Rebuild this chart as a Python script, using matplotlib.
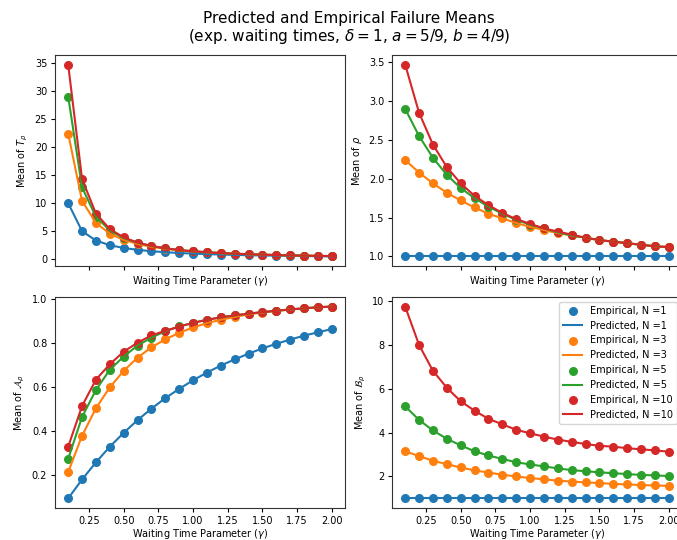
import matplotlib
matplotlib.use("Agg")
import matplotlib.pyplot as plt

gamma = [0.1, 0.2, 0.3, 0.4, 0.5, 0.6, 0.7, 0.8, 0.9, 1.0,
         1.1, 1.2, 1.3, 1.4, 1.5, 1.6, 1.7, 1.8, 1.9, 2.0]
N_values = [1, 3, 5, 10]
colors = ["#1f77b4", "#ff7f0e", "#2ca02c", "#d62728"]

T_mean = {
    1: [10.0, 5.0, 3.33, 2.5, 2.0, 1.67, 1.43, 1.25, 1.11, 1.0,
        0.91, 0.83, 0.77, 0.71, 0.67, 0.63, 0.59, 0.56, 0.53, 0.5],
    3: [22.4, 10.4, 6.47, 4.55, 3.44, 2.72, 2.21, 1.86, 1.59, 1.38,
        1.22, 1.08, 0.98, 0.89, 0.81, 0.74, 0.69, 0.64, 0.59, 0.56],
    5: [29.0, 12.8, 7.57, 5.13, 3.76, 2.92, 2.34, 1.94, 1.63, 1.41,
        1.24, 1.09, 0.98, 0.89, 0.81, 0.74, 0.69, 0.64, 0.59, 0.56],
    10: [34.7, 14.3, 8.13, 5.38, 3.88, 2.97, 2.37, 1.95, 1.64, 1.42,
         1.24, 1.10, 0.98, 0.89, 0.81, 0.74, 0.69, 0.64, 0.59, 0.56],
}
rho_mean = {
    1: [1.0] * 20,
    3: [2.24, 2.08, 1.94, 1.82, 1.72, 1.63, 1.55, 1.49, 1.43, 1.38,
        1.34, 1.30, 1.27, 1.24, 1.21, 1.19, 1.17, 1.15, 1.13, 1.12],
    5: [2.90, 2.55, 2.27, 2.05, 1.88, 1.75, 1.64, 1.55, 1.47, 1.41,
        1.36, 1.31, 1.27, 1.24, 1.21, 1.19, 1.17, 1.15, 1.13, 1.12],
    10: [3.47, 2.85, 2.44, 2.15, 1.94, 1.78, 1.66, 1.56, 1.48, 1.42,
         1.36, 1.32, 1.28, 1.24, 1.21, 1.19, 1.17, 1.15, 1.13, 1.12],
}
A_mean = {
    1: [0.095, 0.181, 0.259, 0.330, 0.393, 0.451, 0.503, 0.551, 0.593, 0.632,
        0.667, 0.699, 0.727, 0.753, 0.777, 0.798, 0.817, 0.835, 0.850, 0.865],
    3: [0.215, 0.38, 0.505, 0.60, 0.675, 0.735, 0.782, 0.818, 0.848, 0.872,
        0.892, 0.907, 0.92, 0.932, 0.94, 0.948, 0.954, 0.959, 0.964, 0.967],
    5: [0.275, 0.465, 0.588, 0.68, 0.74, 0.79, 0.826, 0.855, 0.877, 0.893,
        0.907, 0.918, 0.927, 0.935, 0.942, 0.948, 0.954, 0.959, 0.964, 0.967],
    10: [0.33, 0.515, 0.635, 0.705, 0.762, 0.803, 0.836, 0.857, 0.876, 0.893,
         0.907, 0.918, 0.927, 0.935, 0.942, 0.948, 0.954, 0.959, 0.964, 0.967],
}
B_mean = {
    1: [1.0] * 20,
    3: [3.15, 2.93, 2.72, 2.56, 2.41, 2.28, 2.18, 2.08, 2.0, 1.93,
        1.87, 1.81, 1.77, 1.73, 1.70, 1.66, 1.64, 1.61, 1.59, 1.57],
    5: [5.2, 4.58, 4.1, 3.72, 3.42, 3.15, 2.96, 2.80, 2.65, 2.55,
        2.46, 2.37, 2.29, 2.24, 2.19, 2.15, 2.11, 2.07, 2.05, 2.02],
    10: [9.75, 8.0, 6.82, 6.05, 5.43, 5.0, 4.63, 4.38, 4.13, 3.97,
         3.82, 3.68, 3.58, 3.48, 3.40, 3.36, 3.29, 3.24, 3.19, 3.13],
}

ylabels = [r"Mean of $T_\rho$", r"Mean of $\rho$",
           r"Mean of $\mathcal{A}_\rho$", r"Mean of $\mathcal{B}_\rho$"]
xlabel = r"Waiting Time Parameter ($\gamma$)"

plt.rcParams.update({
    "font.size": 7,
    "xtick.major.size": 2.8,
    "ytick.major.size": 2.8,
    "xtick.major.pad": 2.8,
    "ytick.major.pad": 2.8,
    "axes.labelpad": 3.2,
    "axes.linewidth": 0.8,
    "axes.edgecolor": "#333333",
})

fig = plt.figure(figsize=(6.77, 5.4), dpi=100)
W, H = 677, 540
def pos(l, t, r, b):
    return [l / W, 1 - b / H, (r - l) / W, (b - t) / H]

ax_tl = fig.add_axes(pos(55, 55, 345, 266))
ax_tr = fig.add_axes(pos(392, 55, 682, 266), sharex=ax_tl)
ax_bl = fig.add_axes(pos(55, 297, 345, 508), sharex=ax_tl)
ax_br = fig.add_axes(pos(392, 297, 682, 508), sharex=ax_tl)
axes = [ax_tl, ax_tr, ax_bl, ax_br]
datasets = [T_mean, rho_mean, A_mean, B_mean]

for ax, data, yl in zip(axes, datasets, ylabels):
    for N, c in zip(N_values, colors):
        ax.scatter(gamma, data[N], color=c, s=30, label=f"Empirical, N ={N}")
        ax.plot(gamma, data[N], color=c, lw=1.5, label=f"Predicted, N ={N}")
    ax.set_ylabel(yl)

ax_tl.set_xlabel(xlabel)
ax_tr.set_xlabel(xlabel)
ax_bl.set_xlabel(xlabel, labelpad=1.0)
ax_br.set_xlabel(xlabel, labelpad=1.0)

ax_tl.set_xticks([0.25, 0.5, 0.75, 1.0, 1.25, 1.5, 1.75, 2.0])
ax_tl.tick_params(labelbottom=False)
ax_tr.tick_params(labelbottom=False)
ax_tl.set_yticks([0, 5, 10, 15, 20, 25, 30, 35])
ax_tr.set_yticks([1.0, 1.5, 2.0, 2.5, 3.0, 3.5])
ax_bl.set_yticks([0.2, 0.4, 0.6, 0.8, 1.0])
ax_br.set_yticks([2, 4, 6, 8, 10])

ax_br.legend(loc="upper right", fontsize=7)

fig.text(349 / W, 1 - 18 / H, "Predicted and Empirical Failure Means",
         ha="center", va="center", fontsize=11)
fig.text(349 / W, 1 - 37 / H,
         r"(exp. waiting times, $\delta = 1$, $a = 5/9$, $b = 4/9$)",
         ha="center", va="center", fontsize=11)

fig.savefig("out.png", dpi=100)
